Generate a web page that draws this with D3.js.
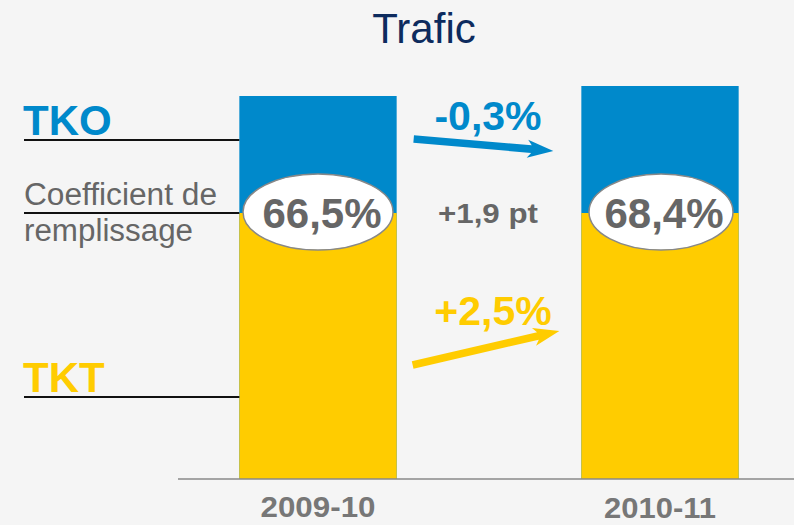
<!DOCTYPE html>
<html>
<head>
<meta charset="utf-8">
<title>Trafic</title>
<script src="https://cdn.jsdelivr.net/npm/d3@7/dist/d3.min.js"></script>
<style>
  body { margin: 0; background: #f5f5f5; }
  svg { display: block; font-family: "Liberation Sans", Arial, sans-serif; }
</style>
</head>
<body>
<div id="chart"></div>
<script>
// season labels on the x axis
var seasons = ["2009-10", "2010-11"];
// bar heights as drawn (TKO = full bar, TKT = yellow part)
var tko = [383, 393];
var tkt = [266, 266];
// load factor shown in the ellipses
var loadFactor = ["66,5%", "68,4%"];
// change labels between the two seasons
var tkoChange = "-0,3%";
var tktChange = "+2,5%";
var lfChange = "+1,9 pt";

var W = 794, H = 525;
var blue = "#0089cb", yellow = "#ffcc00", grey = "#666666";

var svg = d3.select("#chart").append("svg")
  .attr("width", W).attr("height", H);

svg.append("rect").attr("width", W).attr("height", H).attr("fill", "#f5f5f5");

var x = d3.scaleBand().domain(seasons).range([147, 831])
  .paddingInner(0.54).paddingOuter(0.27);
var y = d3.scaleLinear().domain([0, 400]).range([479, 79]);

// title
svg.append("text").attr("x", 424).attr("y", 43)
  .attr("text-anchor", "middle").attr("font-size", 42)
  .attr("fill", "#0d2b5e").text("Trafic");

// bars: blue TKO, yellow TKT on top of it
svg.selectAll(".tko").data(seasons).enter().append("rect")
  .attr("x", function (d) { return x(d); })
  .attr("width", x.bandwidth())
  .attr("y", function (d, i) { return y(tko[i]); })
  .attr("height", function (d, i) { return y(0) - y(tko[i]); })
  .attr("fill", blue);

svg.selectAll(".tkt").data(seasons).enter().append("rect")
  .attr("x", function (d) { return x(d); })
  .attr("width", x.bandwidth())
  .attr("y", function (d, i) { return y(tkt[i]); })
  .attr("height", function (d, i) { return y(0) - y(tkt[i]); })
  .attr("fill", yellow);

// baseline
svg.append("line").attr("x1", 178).attr("x2", W)
  .attr("y1", y(0)).attr("y2", y(0))
  .attr("stroke", "#888").attr("stroke-width", 1.5);

// category labels (the source text is a bit wider than Arial)
var labelWidth = [115, 112];
var xAxis = svg.append("g").attr("transform", "translate(0," + y(0) + ")")
  .call(d3.axisBottom(x).tickSize(0));
xAxis.select(".domain").remove();
xAxis.selectAll("text")
  .attr("font-family", "Liberation Sans, Arial, sans-serif")
  .attr("font-size", 30).attr("font-weight", "bold").attr("fill", "#777")
  .attr("dy", 0)
  .attr("y", function (d, i) { return i === 0 ? 38 : 39; })
  .attr("textLength", function (d, i) { return labelWidth[i]; })
  .attr("lengthAdjust", "spacingAndGlyphs");

// left labels with their leader lines
var firstBar = x(seasons[0]);
function leader(yy) {
  svg.append("line").attr("x1", 24).attr("x2", firstBar)
    .attr("y1", yy).attr("y2", yy)
    .attr("stroke", "#111").attr("stroke-width", 2);
}
leader(y(339));
leader(y(tkt[0]));
leader(y(82));

svg.append("text").attr("x", 23).attr("y", y(344))
  .attr("font-size", 42).attr("font-weight", "bold").attr("fill", blue).text("TKO");
svg.append("text").attr("x", 23).attr("y", y(87))
  .attr("font-size", 42).attr("font-weight", "bold").attr("fill", yellow).text("TKT");
svg.append("text").attr("x", 24).attr("y", y(274))
  .attr("font-size", 31).attr("fill", grey)
  .attr("textLength", 193).attr("lengthAdjust", "spacingAndGlyphs")
  .text("Coefficient de");
svg.append("text").attr("x", 24).attr("y", y(238))
  .attr("font-size", 31).attr("fill", grey)
  .attr("textLength", 169).attr("lengthAdjust", "spacingAndGlyphs")
  .text("remplissage");

// load factor ellipses
var cx = function (i) { return x(seasons[i]) + x.bandwidth() / 2; };
seasons.forEach(function (s, i) {
  svg.append("ellipse")
    .attr("cx", cx(i) + (i === 0 ? 0 : 1)).attr("cy", y(tkt[i]) - 1)
    .attr("rx", i === 0 ? 75 : 72).attr("ry", 38)
    .attr("fill", "#fff").attr("stroke", "#888").attr("stroke-width", 1.5);
  svg.append("text").attr("x", cx(i) + 4).attr("y", y(tkt[i]) + 15)
    .attr("text-anchor", "middle").attr("font-size", 42)
    .attr("font-weight", "bold").attr("fill", grey).text(loadFactor[i]);
});

// change labels between the bars
var mid = (x(seasons[0]) + x.bandwidth() + x(seasons[1])) / 2;
svg.append("text").attr("x", mid - 1).attr("y", y(tkt[0]) + 10)
  .attr("text-anchor", "middle").attr("font-size", 28)
  .attr("textLength", 100).attr("lengthAdjust", "spacingAndGlyphs")
  .attr("font-weight", "bold").attr("fill", grey).text(lfChange);
svg.append("text").attr("x", mid - 1).attr("y", y(349))
  .attr("text-anchor", "middle").attr("font-size", 41)
  .attr("font-weight", "bold").attr("fill", blue).text(tkoChange);
svg.append("text").attr("x", mid + 4).attr("y", y(154))
  .attr("text-anchor", "middle").attr("font-size", 41)
  .attr("font-weight", "bold").attr("fill", yellow).text(tktChange);

// block arrow from (x1,y1) to tip (x2,y2)
function arrow(x1, y1, x2, y2, color) {
  var dx = x2 - x1, dy = y2 - y1, len = Math.sqrt(dx * dx + dy * dy);
  var ang = Math.atan2(dy, dx) * 180 / Math.PI;
  var sw = 3.8, hl = 26, hw = 9, notch = 4;
  var pts = [[0, -sw], [len - hl + notch, -sw], [len - hl, -hw], [len, 0],
             [len - hl, hw], [len - hl + notch, sw], [0, sw]];
  svg.append("polygon")
    .attr("points", pts.map(function (p) { return p.join(","); }).join(" "))
    .attr("transform", "translate(" + x1 + "," + y1 + ") rotate(" + ang + ")")
    .attr("fill", color);
}
var gapL = x(seasons[0]) + x.bandwidth(), gapR = x(seasons[1]);
arrow(gapL + 17, y(340), gapR - 28, y(328), blue);
arrow(gapL + 16, y(114), gapR - 22, y(148), yellow);
</script>
</body>
</html>
